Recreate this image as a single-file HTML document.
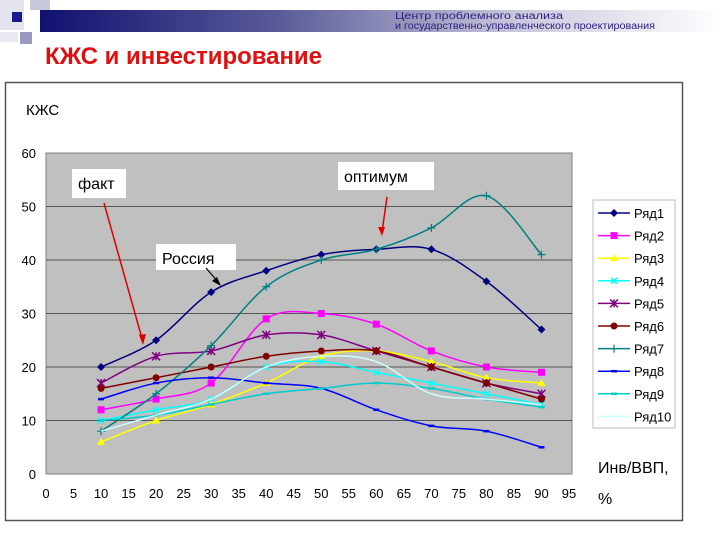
<!DOCTYPE html>
<html><head><meta charset="utf-8"><style>
body{margin:0;width:720px;height:540px;background:#fff;overflow:hidden;font-family:"Liberation Sans",sans-serif;}
</style></head><body>
<svg width="720" height="540" xmlns="http://www.w3.org/2000/svg">
<defs>
<linearGradient id="hg" x1="0" x2="1" y1="0" y2="0">
<stop offset="0" stop-color="#101070"/><stop offset="0.35" stop-color="#5a5a98"/><stop offset="0.7" stop-color="#c8c8dc"/><stop offset="1" stop-color="#ffffff"/>
</linearGradient>
</defs>
<g>
<rect x="0" y="0" width="24" height="30" fill="#e4e4ee"/>
<rect x="30" y="0" width="20" height="10" fill="#c8c8dc"/>
<rect x="40" y="10" width="680" height="22" fill="url(#hg)"/>
<rect x="12" y="12" width="10" height="10" fill="#1a1a90"/>
<rect x="20" y="32" width="12" height="12" fill="#9a9ac0"/>
<rect x="0" y="32" width="18" height="10" fill="#e8e8f0"/>
</g>
<text x="395" y="19" font-size="10" fill="#302080" textLength="168" lengthAdjust="spacingAndGlyphs">Центр проблемного анализа</text>
<text x="395" y="29" font-size="10" fill="#302080" textLength="260" lengthAdjust="spacingAndGlyphs">и государственно-управленческого проектирования</text>
<text x="45" y="64" font-size="24" font-weight="bold" fill="#e01010" textLength="277" lengthAdjust="spacingAndGlyphs">КЖС и инвестирование</text>
<rect x="5.5" y="82.5" width="677" height="438" fill="#fff" stroke="#555" stroke-width="1.5"/>
<text x="26" y="115" font-size="15" fill="#000">КЖС</text>
<rect x="46" y="153" width="526" height="321" fill="#c0c0c0" stroke="#808080"/>
<g id="grid"></g><g id="ticks"></g><g id="series"></g><g id="legend"></g>
<g>
<rect x="72" y="169" width="54" height="29" fill="#fff"/>
<text x="78" y="189" font-size="16">факт</text>
<line x1="104" y1="203" x2="143" y2="342" stroke="#e00000" stroke-width="1.5"/>
<polygon points="143,345 139,335 146,334" fill="#e00000"/>
</g>
<g>
<rect x="338" y="162" width="96" height="28" fill="#fff"/>
<text x="344" y="182" font-size="16">оптимум</text>
<line x1="387" y1="197" x2="382" y2="232" stroke="#e00000" stroke-width="1.5"/>
<polygon points="382,236 378,227 385,227" fill="#e00000"/>
</g>
<g>
<rect x="156" y="244" width="80" height="26" fill="#fff"/>
<text x="162" y="264" font-size="16">Россия</text>
<line x1="206" y1="268" x2="219" y2="283" stroke="#000" stroke-width="1.2"/>
<polygon points="221,286 212,281 217,277" fill="#000"/>
</g>
<text x="598" y="473" font-size="16">Инв/ВВП,</text>
<text x="598" y="504" font-size="16">%</text>
</svg>
<script>
const xs=[10,20,30,40,50,60,70,80,90];
const names=["Ряд1","Ряд2","Ряд3","Ряд4","Ряд5","Ряд6","Ряд7","Ряд8","Ряд9","Ряд10"];
const s1=[20,25,34,38,41,42,42,36,27];
const s2=[12,14,17,29,30,28,23,20,19];
const s3=[6,10,13,17,22,23,21,18,17];
const s4=[10,12,14,20,21,19,17,15,13];
const s5=[17,22,23,26,26,23,20,17,15];
const s6=[16,18,20,22,23,23,20,17,14];
const s7=[8,15,24,35,40,42,46,52,41];
const s8=[14,17,18,17,16,12,9,8,5];
const s9=[10,11,13,15,16,17,16,14,12.5];
const s10=[8,11,14,20,22,21,15,14,13];
const yTicks=[0,10,20,30,40,50,60];
const xTicks=[0,5,10,15,20,25,30,35,40,45,50,55,60,65,70,75,80,85,90,95];
const all=[s1,s2,s3,s4,s5,s6,s7,s8,s9,s10];
const colors=["#000080","#ff00ff","#ffff00","#00ffff","#800080","#800000","#008080","#0000ff","#00cccc","#ccffff"];
const markers=["diamond","square","triangle","x","star","circle","plus","dash","dash","none"];
const X=v=>46+v*(569-46)/95, Y=v=>474-v*321/60;
const NS="http://www.w3.org/2000/svg";
function mk(t,a,p){const e=document.createElementNS(NS,t);for(const k in a)e.setAttribute(k,a[k]);p.appendChild(e);return e;}
const grid=document.getElementById('grid'),ticks=document.getElementById('ticks'),ser=document.getElementById('series'),leg=document.getElementById('legend');
yTicks.forEach(v=>{
 if(v>0&&v<60){const l=mk('line',{x1:46,x2:572,y1:Y(v),y2:Y(v),stroke:'#333','stroke-width':0.8},grid);
 
 }
 const t=mk('text',{x:36,y:Y(v)+5,'font-size':13,'text-anchor':'end'},ticks);t.textContent=v;
 
 
});
xTicks.forEach(v=>{const t=mk('text',{x:X(v),y:498,'font-size':13,'text-anchor':'middle'},ticks);t.textContent=v;
 
 });
function marker(g,type,x,y,c){
 let e;
 if(type=='diamond')e=mk('polygon',{points:`${x},${y-4} ${x+4},${y} ${x},${y+4} ${x-4},${y}`,fill:c},g);
 else if(type=='square')e=mk('rect',{x:x-3.5,y:y-3.5,width:7,height:7,fill:c},g);
 else if(type=='triangle')e=mk('polygon',{points:`${x},${y-4} ${x+4},${y+3} ${x-4},${y+3}`,fill:c},g);
 else if(type=='circle')e=mk('circle',{cx:x,cy:y,r:3.5,fill:c},g);
 else if(type=='x')e=mk('path',{d:`M${x-3},${y-3}L${x+3},${y+3}M${x-3},${y+3}L${x+3},${y-3}`,stroke:c,'stroke-width':1.5},g);
 else if(type=='star')e=mk('path',{d:`M${x-4},${y-4}L${x+4},${y+4}M${x-4},${y+4}L${x+4},${y-4}M${x},${y-4}L${x},${y+4}`,stroke:c,'stroke-width':1.5},g);
 else if(type=='plus')e=mk('path',{d:`M${x-4},${y}L${x+4},${y}M${x},${y-4}L${x},${y+4}`,stroke:c,'stroke-width':1.2},g);
 else if(type=='dash')e=mk('path',{d:`M${x-3},${y}L${x+3},${y}`,stroke:c,'stroke-width':2.5},g);
 if(e){
 }
}
function smooth(pts){let d=`M${pts[0][0]},${pts[0][1]}`;for(let i=0;i<pts.length-1;i++){const p0=pts[i-1]||pts[i],p1=pts[i],p2=pts[i+1],p3=pts[i+2]||p2;
 d+=`C${p1[0]+(p2[0]-p0[0])/6},${p1[1]+(p2[1]-p0[1])/6} ${p2[0]-(p3[0]-p1[0])/6},${p2[1]-(p3[1]-p1[1])/6} ${p2[0]},${p2[1]}`;}return d;}
all.forEach((s,i)=>{
 const g=mk('g',{},ser);
 
 
 const pts=s.map((v,j)=>[X(xs[j]),Y(v)]);
 const p=mk('path',{d:smooth(pts),fill:'none',stroke:colors[i],'stroke-width':1.5},g);
 
 
 pts.forEach(q=>marker(g,markers[i],q[0],q[1],colors[i]));
});
const lb=mk('rect',{x:593,y:200,width:82,height:228,fill:'#fff',stroke:'#bbb'},leg);


names.forEach((n,i)=>{
 const y=213+i*22.6;
 const g=mk('g',{},leg);
 
 
 mk('line',{x1:598,x2:630,y1:y,y2:y,stroke:colors[i],'stroke-width':1.5},g);
 marker(g,markers[i],614,y,colors[i]);
 const t=mk('text',{x:634,y:y+5,'font-size':13},g);t.textContent=n;
});
</script>
</body></html>
